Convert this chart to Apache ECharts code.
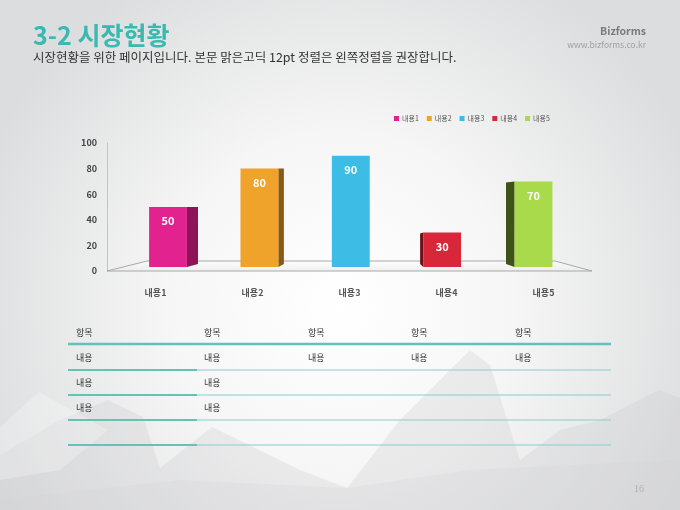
<!DOCTYPE html>
<html>
<head>
<meta charset="utf-8">
<script src="https://cdn.jsdelivr.net/npm/echarts@6/dist/echarts.min.js"></script>
<style>
  html, body { margin: 0; padding: 0; }
  #main { width: 680px; height: 510px; }
</style>
</head>
<body>
<div id="main"></div>
<script>
// 차트 데이터
var categories = ['내용1', '내용2', '내용3', '내용4', '내용5'];
var values = [50, 80, 90, 30, 70];
var yMin = 0, yMax = 100, yStep = 20;

// 표 데이터
var tableHeader = ['항목', '항목', '항목', '항목', '항목'];
var tableRows = [
  ['내용', '내용', '내용', '내용', '내용'],
  ['내용', '내용'],
  ['내용', '내용'],
  []
];

var frontColors = ['#e2228e', '#f0a32a', '#3dbde5', '#d9273a', '#a8da4b'];
var sideColors = ['#8c1457', '#8a5a14', '#2a8aa8', '#6e1018', '#3f5319'];

var FONT = '"Noto Sans CJK KR", "Noto Sans", sans-serif';

var chart = echarts.init(document.getElementById('main'));

// 3D 막대 (정면 + 측면)
function barRender(i) {
  return function (params, api) {
    var cs = params.coordSys;
    var vx = cs.x + cs.width * 0.545;
    var top = api.coord([api.value(0), api.value(1)]);
    var base = api.coord([api.value(0), 0]);
    var band = api.size([1, 0])[0];
    var w = band * 0.39;
    var cx = top[0] - 0.058 * (top[0] - vx);
    var left = cx - w / 2, right = cx + w / 2;
    var y0 = top[1], y1 = base[1] - 4;
    var side;
    if (cx < vx) {
      var d = 0.06 * (vx - right);
      side = [[right, y0], [right + d, y0], [right + d, y1 - 3], [right, y1]];
    } else {
      var d2 = 0.06 * (left - vx);
      side = [[left, y0], [left - d2, y0 + 1], [left - d2, y1 - 3], [left, y1]];
    }
    return {
      type: 'group',
      children: [
        { type: 'polygon', shape: { points: side }, style: { fill: sideColors[i] } },
        { type: 'rect', shape: { x: left, y: y0, width: w, height: y1 - y0 }, style: { fill: frontColors[i] } },
        {
          type: 'text', x: cx, y: y0 + 14,
          style: {
            text: String(api.value(1)), fill: '#fff', font: 'bold 11px ' + FONT,
            align: 'center', verticalAlign: 'middle'
          }
        }
      ]
    };
  };
}

// 바닥면
function floorRender(params, api) {
  var cs = params.coordSys;
  var x0 = cs.x, x1 = cs.x + cs.width, y = cs.y + cs.height;
  return {
    type: 'polygon',
    shape: { points: [[x0, y], [x1, y], [x1 - 37, y - 10], [x0 + 40, y - 10]] },
    style: {
      fill: new echarts.graphic.LinearGradient(0, 0, 0, 1, [
        { offset: 0, color: 'rgba(255,255,255,0.6)' },
        { offset: 1, color: 'rgba(235,235,235,0.8)' }
      ]),
      stroke: '#a8a8a8', lineWidth: 1
    }
  };
}

var series = [{
  type: 'custom', name: 'floor', silent: true, z: 1,
  data: [[0, 0]], renderItem: floorRender
}];
categories.forEach(function (c, i) {
  series.push({
    type: 'custom', name: c, z: 3,
    itemStyle: { color: frontColors[i] },
    data: [[i, values[i]]],
    renderItem: barRender(i)
  });
});

// 배경 + 텍스트 + 표
var graphics = [];
graphics.push({
  type: 'rect', z: -10, silent: true,
  shape: { x: 0, y: 0, width: 680, height: 510 },
  style: {
    fill: new echarts.graphic.RadialGradient(0.5, 0.6, 0.75, [
      { offset: 0, color: '#ffffff' },
      { offset: 0.45, color: '#f6f6f6' },
      { offset: 1, color: '#dcddde' }
    ])
  }
});
graphics.push({
  type: 'polygon', z: -9, silent: true,
  shape: { points: [[0, 455], [60, 420], [108, 400], [143, 417], [160, 468], [212, 427], [300, 470], [347, 488],
    [400, 420], [470, 350], [490, 365], [520, 460], [560, 430], [600, 420], [659, 390], [680, 398], [680, 510], [0, 510]] },
  style: { fill: 'rgba(200,202,204,0.28)' }
});
graphics.push({
  type: 'polygon', z: -9, silent: true,
  shape: { points: [[0, 427], [39, 392], [108, 430], [60, 470], [0, 480]] },
  style: { fill: 'rgba(255,255,255,0.25)' }
});
graphics.push({
  type: 'polygon', z: -9, silent: true,
  shape: { points: [[0, 500], [180, 480], [347, 488], [470, 470], [680, 460], [680, 510], [0, 510]] },
  style: { fill: 'rgba(210,212,214,0.25)' }
});

graphics.push({
  type: 'text', left: 33, top: 23,
  style: { text: '3-2 시장현황', fill: '#3bb8b0', font: 'bold 25px ' + FONT }
});
graphics.push({
  type: 'text', left: 33, top: 51,
  style: { text: '시장현황을 위한 페이지입니다. 본문 맑은고딕 12pt 정렬은 왼쪽정렬을 권장합니다.', fill: '#333', font: '12.5px ' + FONT }
});
graphics.push({
  type: 'text', right: 34, top: 26,
  style: { text: 'Bizforms', fill: '#7a7a7a', font: 'bold 10.5px ' + FONT }
});
graphics.push({
  type: 'text', right: 34, top: 41,
  style: { text: 'www.bizforms.co.kr', fill: '#a0a0a0', font: '8.5px ' + FONT }
});
graphics.push({
  type: 'text', left: 634, top: 484,
  style: { text: '16', fill: '#b0b0b0', font: '10px "Liberation Serif", serif' }
});

var colX = [76, 204, 308, 411, 515];
var tableLeft = 68, tableRight = 611, firstColRight = 197;
var headerY = 333, headerLine = 344, rowH = 25;
tableHeader.forEach(function (t, j) {
  graphics.push({
    type: 'text', x: colX[j], y: headerY,
    style: { text: t, fill: '#333', font: '9px ' + FONT, verticalAlign: 'middle' }
  });
});
graphics.push({
  type: 'line', shape: { x1: tableLeft, y1: headerLine, x2: tableRight, y2: headerLine },
  style: { stroke: '#62c1b8', lineWidth: 2.5 }
});
tableRows.forEach(function (row, r) {
  var ty = headerLine + 14 + r * rowH;
  var ly = headerLine + (r + 1) * rowH + 1;
  row.forEach(function (t, j) {
    graphics.push({
      type: 'text', x: colX[j], y: ty,
      style: { text: t, fill: '#333', font: '9px ' + FONT, verticalAlign: 'middle' }
    });
  });
  graphics.push({
    type: 'line', shape: { x1: tableLeft, y1: ly, x2: tableRight, y2: ly },
    style: { stroke: '#86cfc7', lineWidth: 1 }
  });
  graphics.push({
    type: 'line', shape: { x1: tableLeft, y1: ly, x2: firstColRight, y2: ly },
    style: { stroke: '#66c2b9', lineWidth: 2 }
  });
});

var option = {
  animation: false,
  textStyle: { fontFamily: FONT },
  graphic: { elements: graphics },
  legend: {
    data: categories,
    left: 389, top: 110,
    icon: 'rect', itemWidth: 5, itemHeight: 5, itemGap: 8,
    textStyle: { fontSize: 7, color: '#555', padding: [0, 0, 0, -2] }
  },
  grid: { left: 107, right: 88, top: 143, bottom: 239 },
  xAxis: {
    type: 'category', data: categories,
    axisLine: { show: false }, axisTick: { show: false },
    axisLabel: { fontSize: 9, fontWeight: 'bold', color: '#555', margin: 17 }
  },
  yAxis: {
    type: 'value', min: yMin, max: yMax, interval: yStep,
    axisLine: { show: true, lineStyle: { color: '#c4c4c4' } },
    axisTick: { show: false },
    splitLine: { show: false },
    axisLabel: { fontSize: 9, fontWeight: 'bold', color: '#444', margin: 10 }
  },
  series: series
};
chart.setOption(option);
</script>
</body>
</html>
